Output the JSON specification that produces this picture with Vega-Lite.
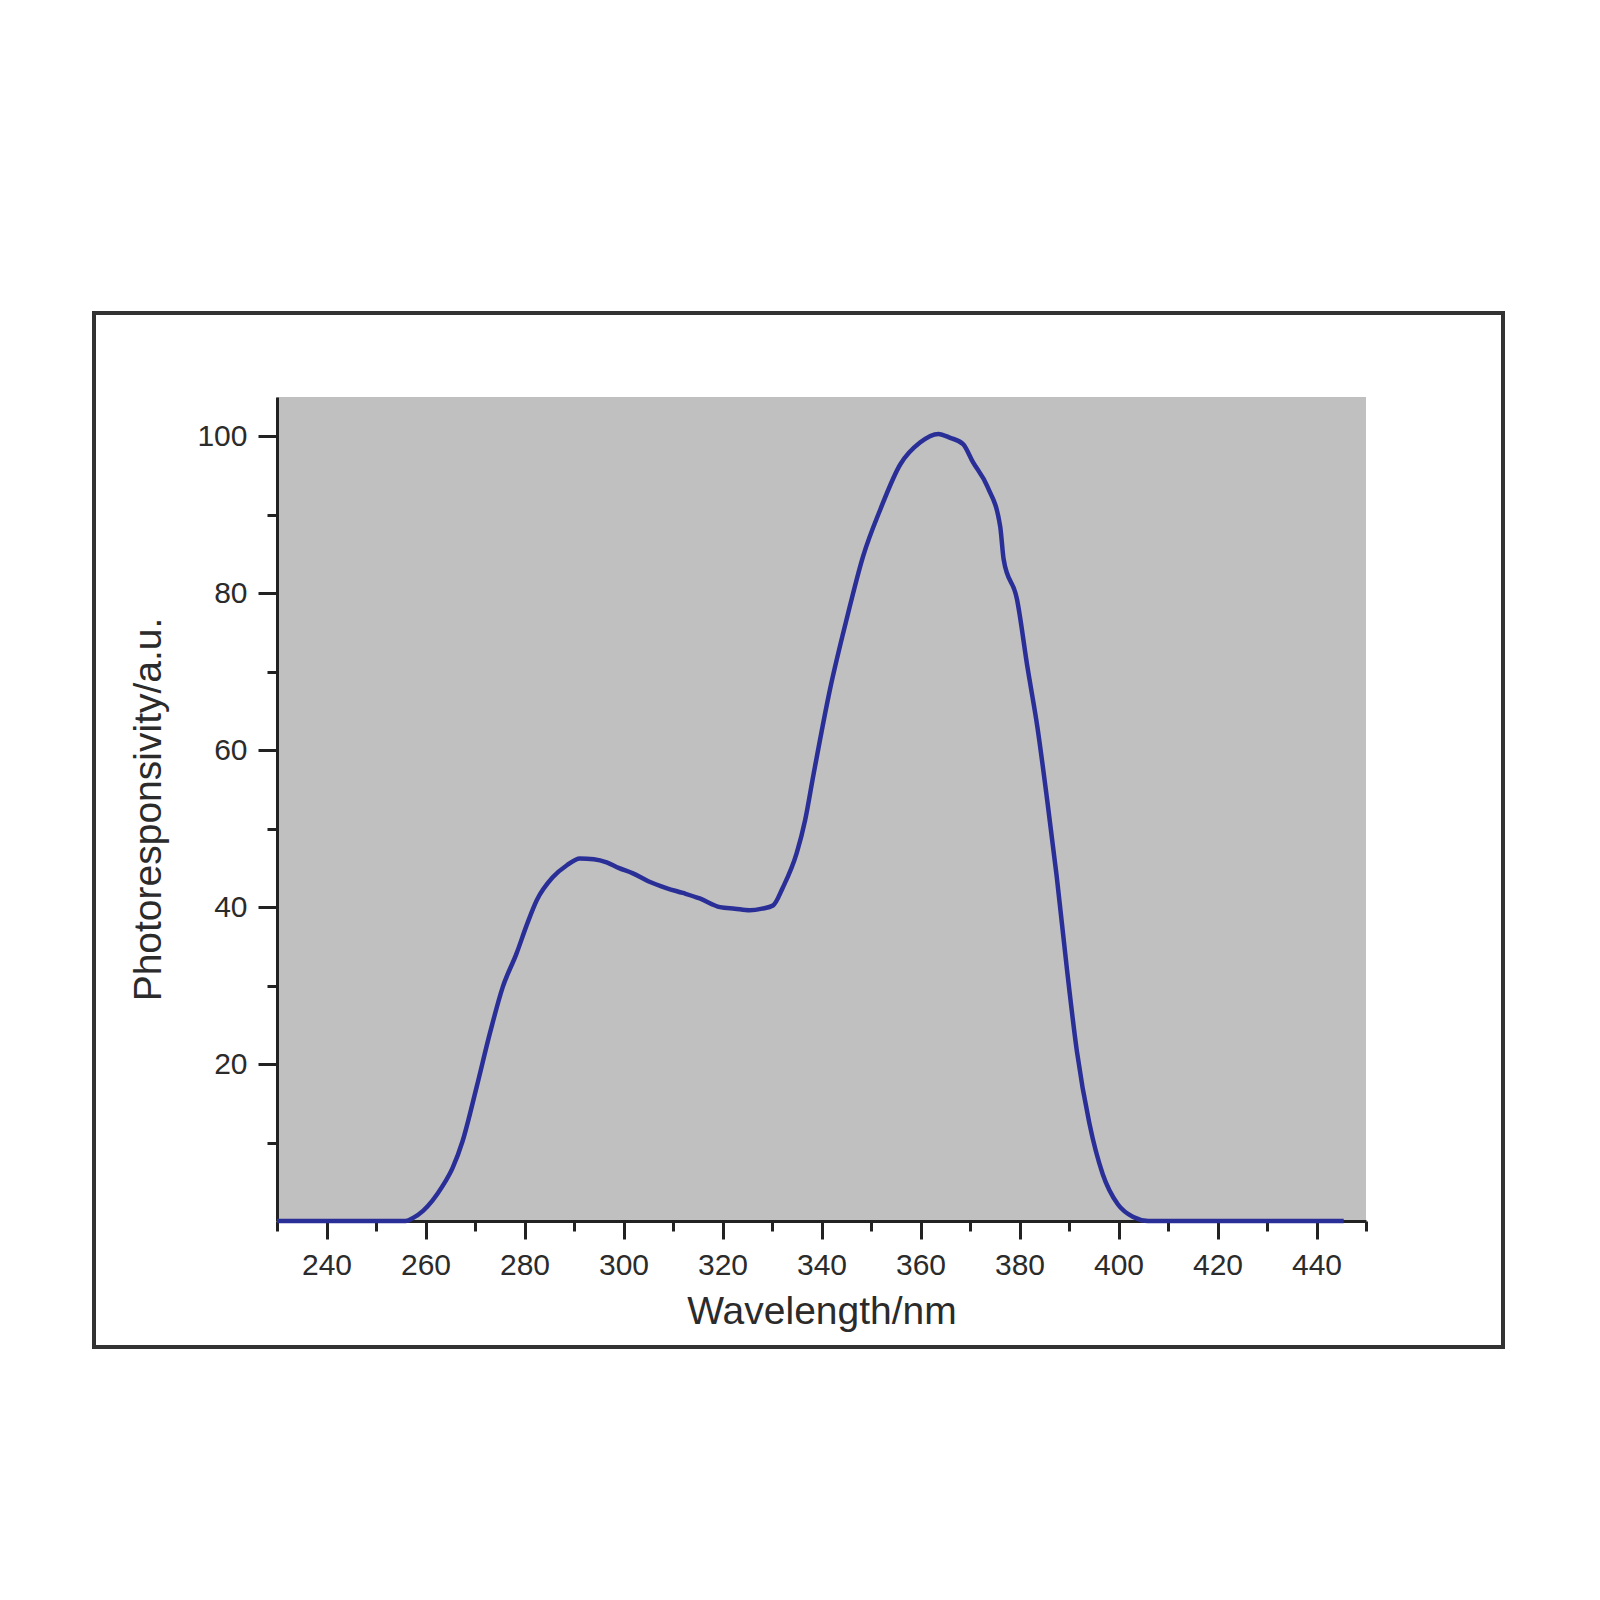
{
  "$schema": "https://vega.github.io/schema/vega-lite/v6.json",
  "autosize": {"type": "none"},
  "width": 1089,
  "height": 824,
  "padding": {"left": 277, "top": 397, "right": 234, "bottom": 379},
  "background": "white",
  "data": {
    "values": [
      {"wl": 230, "r": 0}, {"wl": 240, "r": 0}, {"wl": 250, "r": 0}, {"wl": 256, "r": 0},
      {"wl": 257.5, "r": 0.4}, {"wl": 259.5, "r": 1.3}, {"wl": 261.4, "r": 2.6}, {"wl": 263.5, "r": 4.5},
      {"wl": 265.5, "r": 6.8}, {"wl": 267.5, "r": 10.2}, {"wl": 270.3, "r": 17}, {"wl": 273, "r": 23.9},
      {"wl": 275.6, "r": 29.8}, {"wl": 278.4, "r": 34.1}, {"wl": 280.5, "r": 37.8}, {"wl": 282.5, "r": 40.9},
      {"wl": 285.7, "r": 43.8}, {"wl": 288.5, "r": 45.3}, {"wl": 291.2, "r": 46.2}, {"wl": 294, "r": 46.1},
      {"wl": 296.6, "r": 45.7}, {"wl": 299, "r": 45}, {"wl": 301.9, "r": 44.3}, {"wl": 305, "r": 43.3},
      {"wl": 308.8, "r": 42.4}, {"wl": 312, "r": 41.8}, {"wl": 315.4, "r": 41.1}, {"wl": 319.5, "r": 40},
      {"wl": 322.5, "r": 39.8}, {"wl": 325.5, "r": 39.6}, {"wl": 328, "r": 39.8}, {"wl": 330.2, "r": 40.2},
      {"wl": 332.2, "r": 42.5}, {"wl": 335, "r": 46.9}, {"wl": 336.7, "r": 51.1}, {"wl": 338.3, "r": 56.6},
      {"wl": 341.7, "r": 67.7},
      {"wl": 345.2, "r": 77}, {"wl": 348.4, "r": 84.7}, {"wl": 351.9, "r": 90.7}, {"wl": 355.9, "r": 96.4},
      {"wl": 359.9, "r": 99.2}, {"wl": 363.6, "r": 100.3}, {"wl": 366, "r": 99.8}, {"wl": 368.6, "r": 99},
      {"wl": 370.6, "r": 96.7}, {"wl": 373.5, "r": 93.6}, {"wl": 376.1, "r": 88.5}, {"wl": 376.8, "r": 84.3},
      {"wl": 379.5, "r": 79.2}, {"wl": 381.6, "r": 70.6}, {"wl": 383.6, "r": 63}, {"wl": 385.6, "r": 53.6},
      {"wl": 387.5, "r": 44}, {"wl": 389.6, "r": 32}, {"wl": 391.6, "r": 21.6}, {"wl": 394.1, "r": 12.5},
      {"wl": 396.8, "r": 6}, {"wl": 399.9, "r": 2.1}, {"wl": 403, "r": 0.5}, {"wl": 406, "r": 0},
      {"wl": 420, "r": 0}, {"wl": 445.5, "r": 0}
    ]
  },
  "layer": [
    {
      "mark": {"type": "rect", "fill": null, "stroke": "#333333", "strokeWidth": 3, "clip": false},
      "encoding": {
        "x": {"datum": 193, "type": "quantitative", "scale": {"domain": [230, 450], "nice": false, "zero": false}, "axis": null},
        "x2": {"datum": 477.7},
        "y": {"datum": -16.06, "type": "quantitative", "scale": {"domain": [0, 105], "nice": false, "zero": false}, "axis": null},
        "y2": {"datum": 115.7}
      }
    },
    {
      "mark": {"type": "line", "opacity": 0},
      "encoding": {
        "x": {
          "field": "wl", "type": "quantitative",
          "scale": {"domain": [230, 450], "nice": false, "zero": false},
          "axis": {"orient": "bottom", "values": [230, 250, 270, 290, 310, 330, 350, 370, 390, 410, 430, 450], "labels": false, "title": null, "tickSize": 10, "domain": false}
        },
        "y": {
          "field": "r", "type": "quantitative",
          "scale": {"domain": [0, 105], "nice": false, "zero": false},
          "axis": {"orient": "left", "values": [10, 30, 50, 70, 90], "labels": false, "title": null, "tickSize": 10, "domain": false}
        }
      }
    },
    {
      "mark": {"type": "line", "color": "#2a2f98", "strokeWidth": 4.5, "interpolate": "monotone"},
      "encoding": {
        "x": {
          "field": "wl", "type": "quantitative",
          "scale": {"domain": [230, 450], "nice": false, "zero": false},
          "axis": {"orient": "bottom", "values": [240, 260, 280, 300, 320, 340, 360, 380, 400, 420, 440], "tickSize": 18, "labelPadding": 11, "title": "Wavelength/nm", "titlePadding": 12, "titleFontSize": 39}
        },
        "y": {
          "field": "r", "type": "quantitative",
          "scale": {"domain": [0, 105], "nice": false, "zero": false},
          "axis": {"orient": "left", "values": [20, 40, 60, 80, 100], "tickSize": 19, "labelPadding": 11, "title": "Photoresponsivity/a.u.", "titlePadding": 28, "titleFontSize": 39}
        }
      }
    }
  ],
  "resolve": {"axis": {"x": "independent", "y": "independent"}},
  "config": {
    "view": {"fill": "#c0c0c0", "stroke": null},
    "axis": {
      "grid": false,
      "domainColor": "#222222",
      "domainWidth": 3,
      "tickColor": "#222222",
      "tickWidth": 3,
      "labelFont": "Liberation Sans",
      "labelFontSize": 30,
      "labelColor": "#2b2b2b",
      "titleFont": "Liberation Sans",
      "titleFontWeight": "normal",
      "titleColor": "#2b2b2b"
    }
  }
}
